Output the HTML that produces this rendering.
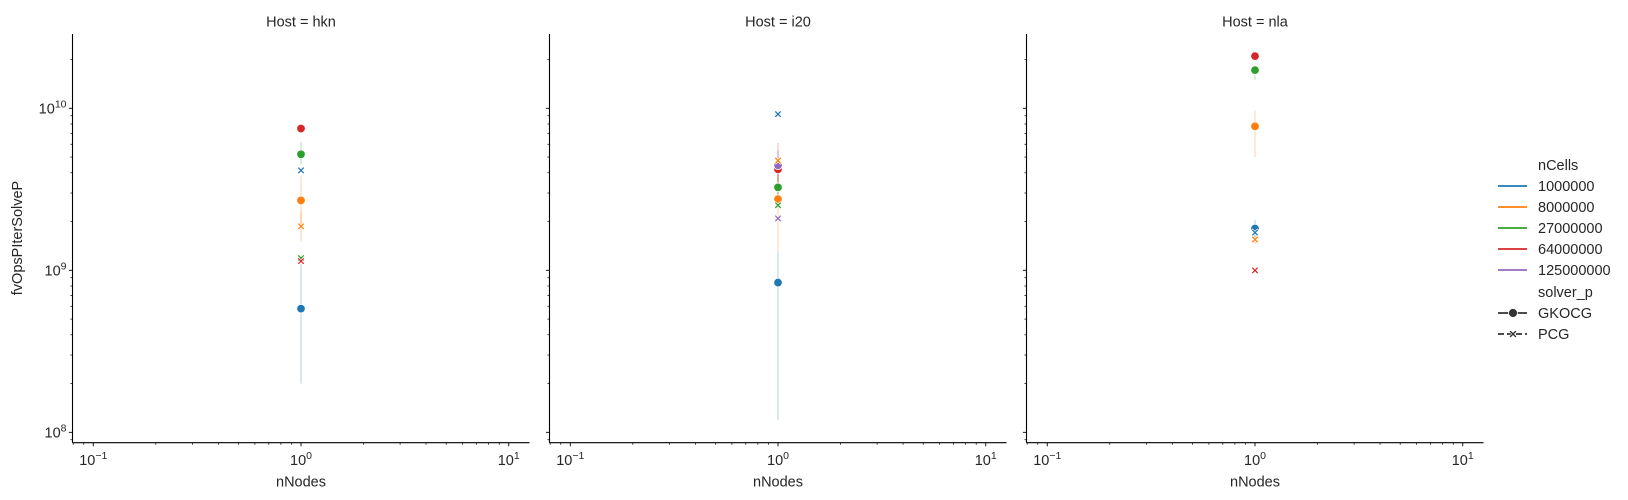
<!DOCTYPE html>
<html><head><meta charset="utf-8"><style>
html,body{margin:0;padding:0;background:#fff;}
svg{display:block;font-family:"Liberation Sans","DejaVu Sans",sans-serif;}
</style></head><body>
<svg id="chart" width="1628" height="500" viewBox="0 0 1628 500" xmlns="http://www.w3.org/2000/svg"></svg>
<script>
const colors = ['#1f77b4','#ff7f0e','#2ca02c','#d62728','#9467bd'];
const cellLabels = ['1000000','8000000','27000000','64000000','125000000'];
const solverLabels = ['GKOCG','PCG'];
const hosts = ['hkn','i20','nla'];
const xValue = 1;

const hknCells  = [0,1,2,3, 0,1,2,3];
const hknSolver = [0,0,0,0, 1,1,1,1];
const hknValues = [5.8e8,2.7e9,5.2e9,7.5e9, 4.14e9,1.87e9,1.19e9,1.14e9];
const hknLo     = [2.0e8,1.9e9,4.5e9,7.5e9, 4.14e9,1.5e9,1.19e9,1.14e9];
const hknHi     = [1.1e9,3.8e9,6.2e9,7.5e9, 4.14e9,2.3e9,1.19e9,1.14e9];

const i20Cells  = [0,1,2,3,4, 0,1,2,4];
const i20Solver = [0,0,0,0,0, 1,1,1,1];
const i20Values = [8.4e8,2.75e9,3.25e9,4.2e9,4.45e9, 9.2e9,4.75e9,2.52e9,2.09e9];
const i20Lo     = [1.19e8,1.3e9,2.6e9,2.9e9,3.5e9, 9.2e9,4.75e9,2.52e9,2.09e9];
const i20Hi     = [1.3e9,4.7e9,4.0e9,6.1e9,5.5e9, 9.2e9,4.75e9,2.52e9,2.09e9];

const nlaCells  = [0,1,2,3, 0,1,3];
const nlaSolver = [0,0,0,0, 1,1,1];
const nlaValues = [1.81e9,7.74e9,1.72e10,2.1e10, 1.71e9,1.55e9,1.0e9];
const nlaLo     = [1.6e9,5.0e9,1.5e10,2.1e10, 1.71e9,1.45e9,1.0e9];
const nlaHi     = [2.04e9,9.7e9,1.85e10,2.1e10, 1.71e9,1.65e9,1.0e9];

const panelCells=[hknCells,i20Cells,nlaCells], panelSolver=[hknSolver,i20Solver,nlaSolver];
const panelValues=[hknValues,i20Values,nlaValues], panelLo=[hknLo,i20Lo,nlaLo], panelHi=[hknHi,i20Hi,nlaHi];

const NS='http://www.w3.org/2000/svg';
const svg=document.getElementById('chart');
function mk(tag,attrs,parent){const e=document.createElementNS(NS,tag);for(const k in attrs)e.setAttribute(k,attrs[k]);(parent||svg).appendChild(e);return e;}

const panelLeft=[72.5,549.5,1026.5], panelW=457, plotTop=34, plotBottom=442.7;
const xMin=-1.1,xMax=1.1,yMin=7.936,yMax=10.4586;
function xs(p,v){return panelLeft[p]+(Math.log10(v)-xMin)/(xMax-xMin)*panelW;}
function ys(v){return plotBottom-(Math.log10(v)-yMin)/(yMax-yMin)*(plotBottom-plotTop);}
function supText(parent,x,y,base,exp,anchor,name){
  const t=mk('text',{x:x,y:y,'font-size':'14.5','text-anchor':anchor,fill:'#262626'},parent);
  
  
  const a=mk('tspan',{},t);a.textContent=base;
  const b=mk('tspan',{dy:'-6','font-size':'10.5'},t);b.textContent=exp;
  return t;
}

for(let p=0;p<3;p++){
  const g=mk('g',{});
  
  
  const L=panelLeft[p];
  const tt=mk('text',{x:L+panelW/2,y:26.5,'font-size':'14.5','text-anchor':'middle',fill:'#262626'},g);
  tt.textContent='Host = '+hosts[p];
  
  
  const sl=mk('line',{x1:L,y1:plotTop,x2:L,y2:plotBottom,stroke:'#000','stroke-width':1.1},g);
  
  
  const sb=mk('line',{x1:L,y1:plotBottom,x2:L+panelW,y2:plotBottom,stroke:'#000','stroke-width':1.1},g);
  
  
  for(let d=-2;d<=1;d++){
    for(let m=1;m<10;m++){
      const v=m*Math.pow(10,d);const lv=Math.log10(v);
      if(lv<xMin||lv>xMax)continue;
      const x=xs(p,v);
      mk('line',{x1:x,y1:plotBottom,x2:x,y2:plotBottom+(m===1?3.6:2.1),stroke:'#000','stroke-width':m===1?0.9:0.7},g);
      if(m===1){supText(g,x,465,'10',d===0?'0':(d<0?'\u2212'+(-d):String(d)),'middle','x-tick-label');}
    }
  }
  const xl=mk('text',{x:L+panelW/2,y:486.5,'font-size':'14.5','text-anchor':'middle',fill:'#262626'},g);
  xl.textContent='nNodes';
  
  
  for(let d=7;d<=10;d++){
    for(let m=1;m<10;m++){
      const v=m*Math.pow(10,d);const lv=Math.log10(v);
      if(lv<yMin||lv>yMax)continue;
      const y=ys(v);
      mk('line',{x1:L,y1:y,x2:L-(m===1?3.6:2.1),y2:y,stroke:'#000','stroke-width':m===1?0.9:0.7},g);
      if(m===1&&p===0){supText(g,L-6,y+5,'10',String(d),'end','y-tick-label');}
    }
  }
  const cells=panelCells[p],sol=panelSolver[p],vals=panelValues[p],lo=panelLo[p],hi=panelHi[p];
  const x0=xs(p,xValue);
  for(let i=0;i<vals.length;i++){
    if(hi[i]>lo[i]){
      const e=mk('line',{x1:x0,y1:ys(hi[i]),x2:x0,y2:ys(lo[i]),stroke:colors[cells[i]],'stroke-width':1.6,'stroke-opacity':0.22},g);
      
      
    }
  }
  for(let i=0;i<vals.length;i++){
    const y=ys(vals[i]);const c=colors[cells[i]];
    let m;
    if(sol[i]===0){
      m=mk('circle',{cx:x0,cy:y,r:4.3,fill:c,stroke:'#fff','stroke-width':0.8},g);
    } else {
      const s=3.6,w=1.3;
      const pts=[[-s,-s+w],[-s+w,-s],[0,-w],[s-w,-s],[s,-s+w],[w,0],[s,s-w],[s-w,s],[0,w],[-s+w,s],[-s,s-w],[-w,0]];
      m=mk('polygon',{points:pts.map(q=>(x0+q[0])+','+(y+q[1])).join(' '),fill:c,stroke:'#fff','stroke-width':0.6},g);
    }
    
    
  }
}
const yt=mk('text',{x:0,y:0,'font-size':'14.5','text-anchor':'middle',fill:'#262626',transform:'translate(22,238) rotate(-90)'});
yt.textContent='fvOpsPIterSolveP';



const lg=mk('g',{});


function ltext(y,s,name){const t=mk('text',{x:1538,y:y,'font-size':'14.5',fill:'#262626'},lg);t.textContent=s;return t;}
ltext(170,'nCells','legend-title-ncells');
for(let i=0;i<5;i++){
  const y=186+i*21;
  const ln=mk('line',{x1:1498,y1:y,x2:1527,y2:y,stroke:colors[i],'stroke-width':1.8},lg);
  
  
  ltext(y+5,cellLabels[i],'legend-entry');
}
ltext(297,'solver_p','legend-title-solver');
const ly1=313;
const l1=mk('line',{x1:1498,y1:ly1,x2:1527,y2:ly1,stroke:'#333','stroke-width':1.8},lg);


mk('circle',{cx:1513,cy:ly1,r:4.5,fill:'#333',stroke:'#fff','stroke-width':0.8},lg);
ltext(ly1+5,'GKOCG','legend-entry');
const ly2=334;
const l2=mk('line',{x1:1498,y1:ly2,x2:1527,y2:ly2,stroke:'#333','stroke-width':1.8,'stroke-dasharray':'6,3'},lg);


{const s=3.8,w=1.4,x0=1513,y=ly2;
const pts=[[-s,-s+w],[-s+w,-s],[0,-w],[s-w,-s],[s,-s+w],[w,0],[s,s-w],[s-w,s],[0,w],[-s+w,s],[-s,s-w],[-w,0]];
mk('polygon',{points:pts.map(q=>(x0+q[0])+','+(y+q[1])).join(' '),fill:'#333',stroke:'#fff','stroke-width':0.6},lg);}
ltext(ly2+5,'PCG','legend-entry');
</script>
</body></html>
